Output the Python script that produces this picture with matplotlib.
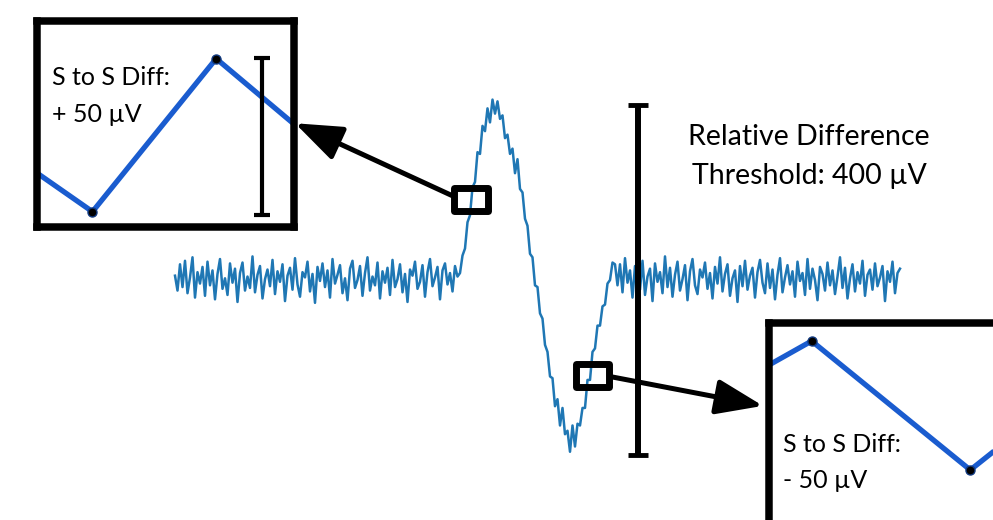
import numpy as np
import matplotlib
matplotlib.use("Agg")
import matplotlib.pyplot as plt
from matplotlib.patches import Rectangle

plt.rcParams['font.family'] = ['Lato', 'DejaVu Sans']

# recorded trace (µV), one value per sample
baseline_left = [
    5, -12, 18, -8, 22, -15, 3, 26, -20, 9, -4, 15, -18, 21, -6, 11, -22, 7, 24, -10,
    2, -17, 19, -3, 13, -25, 8, 20, -12, 4, -9, 27, -14, 6, 16, -21, 1, 12, -7, 23,
    -16, 10, -2, 18, -24, 5, 14, -11, 25, -5, -19, 9, 3, 21, -13, 7, -26, 15, -1, 19,
    -8, 11, -20, 24, -4, 6, 17, -15, 2, -23, 13, 22, -9, 0, 16, -18, 8, 26, -12, 4,
    -6, 20, -21, 10, -3, 14, -17, 23, -8, 1, 18, -14, 7, -25, 12, 5, 21, -10, -2, 17,
    -19, 9, 24, -7, 3, 15, -22, 11, 19, -5, 8, -13, 16, 4,
]
spike = [
    8, 28, 36, 66, 74, 106, 112, 146, 144, 176, 170, 196, 180, 206, 190, 204,
    184, 188, 162, 166, 144, 150, 122, 138, 104, 100, 70, 62, 30, 26, -6, -8,
    -38, -44, -74, -82, -110, -112, -144, -136, -166, -146, -176, -172, -196, -166,
    -190, -164, -166, -146, -146, -114, -114, -82, -78, -52, -52, -30, -28, -4,
    0, 20, 18,
]
baseline_right = [
    -6, 18, -14, 25, -3, 11, -20, 16, 7, -11, 22, -17, 4, 13, -24, 19, -2, 9, -15, 27,
    -8, 14, -19, 6, 21, -12, 1, 17, -23, 10, 24, -6, -16, 12, 3, 20, -10, 8, -21, 15,
    -4, 26, -13, 7, 18, -18, 2, 11, -25, 16, -7, 22, -11, 5, 14, -20, 9, 23, -3, -15,
    19, -9, 12, -22, 6, 25, -14, 3, 17, -5, 10, -19, 21, -1, 8, -17, 24, -10, 13, 0,
    -23, 15, 7, -12, 20, -6, 11, -16, 4, 26, -9, 14, -21, 2, 18, -13, 9, -4, 22, -18,
    6, 12, -11, 19, -7, 3, 16, -24, 10, -2, 21, -15, 8, 13,
]
signal = np.array(baseline_left + spike + baseline_right, dtype=float)
samples = np.arange(len(signal))

threshold_uv = 400
threshold_sample = 185.2

# zoomed-in sample pairs
zoom1_t = [0, 1, 3.21, 4.58]
zoom1_v = [13, 0, 51, 29.5]
zoom1_bar = (4.03, -1.1, 51.2)
zoom2_t = [0, 0.96, 4.53, 5.43]
zoom2_v = [35, 43, 0, 10.6]

# zoom windows on the trace (center sample, center µV)
box1 = (118.4, 92.3)
box2 = (167.1, -108.8)
box_w, box_h = 13.3, 26.0

blue = '#1f77b4'
inset_blue = '#1a5ccf'

fig = plt.figure(figsize=(9.93, 5.2), dpi=100)
ax = fig.add_axes([0, 0, 1, 1])
ax.set_xlim(-70, 327.2)
ax.set_ylim(-273.9, 319.7)
ax.axis('off')

ax.plot(samples, signal, color=blue, lw=1.8)

# threshold bar
ax.errorbar([threshold_sample], [0], yerr=threshold_uv / 2, color='black',
            elinewidth=4.3, capsize=7, capthick=3.5)
fig.text(809 / 993, 1 - 145 / 520, 'Relative Difference', ha='center',
         va='baseline', fontsize=20.5)
fig.text(809 / 993, 1 - 184 / 520, 'Threshold: 400 µV', ha='center',
         va='baseline', fontsize=20.5)

for cx, cy in (box1, box2):
    ax.add_patch(Rectangle((cx - box_w / 2, cy - box_h / 2), box_w, box_h,
                           fill=False, ec='black', lw=5, joinstyle='round',
                           zorder=5))

arrow = dict(arrowstyle='-|>,head_length=1.6,head_width=0.6', mutation_scale=18,
             lw=3.6, color='black', shrinkA=0, shrinkB=0)
ax.annotate('', xy=(48.0, 179.0), xytext=(box1[0] - box_w / 2, 95.2),
            arrowprops=arrow)
ax.annotate('', xy=(235.2, -143.6), xytext=(box2[0] + box_w / 2, -110),
            arrowprops=arrow)

# inset 1
in1 = fig.add_axes([36.5 / 993, 1 - 227 / 520, 257.5 / 993, 206.5 / 520])
in1.set_xlim(0, 4.6)
in1.set_ylim(-5.1, 63.7)
in1.plot(zoom1_t, zoom1_v, color=inset_blue, lw=3.8, solid_capstyle='butt')
in1.plot(zoom1_t[1:3], zoom1_v[1:3], 'o', color='black', ms=6.5,
         mec='#123a80', mew=1)
in1.errorbar([zoom1_bar[0]], [(zoom1_bar[1] + zoom1_bar[2]) / 2],
             yerr=(zoom1_bar[2] - zoom1_bar[1]) / 2, color='black',
             elinewidth=3, capsize=5.5, capthick=3)
in1.text(0.059, 0.688, 'S to S Diff:', transform=in1.transAxes, fontsize=18,
         va='baseline')
in1.text(0.059, 0.508, '+ 50 µV', transform=in1.transAxes, fontsize=18,
         va='baseline')

# inset 2
in2 = fig.add_axes([769 / 993, 1 - 560 / 520, 471 / 993, 237 / 520])
in2.set_xlim(0, 10.6)
in2.set_ylim(-30, 49)
in2.plot(zoom2_t, zoom2_v, color=inset_blue, lw=3.8, solid_capstyle='butt')
in2.plot(zoom2_t[1:3], zoom2_v[1:3], 'o', color='black', ms=6.5,
         mec='#123a80', mew=1)
in2.text(0.0297, 0.456, 'S to S Diff:', transform=in2.transAxes, fontsize=18,
         va='baseline')
in2.text(0.0297, 0.304, '- 50 µV', transform=in2.transAxes, fontsize=18,
         va='baseline')

for a in (in1, in2):
    a.set_xticks([])
    a.set_yticks([])
    for s in a.spines.values():
        s.set_linewidth(5.4)
        s.set_color('black')

fig.savefig('out.png', dpi=100)
